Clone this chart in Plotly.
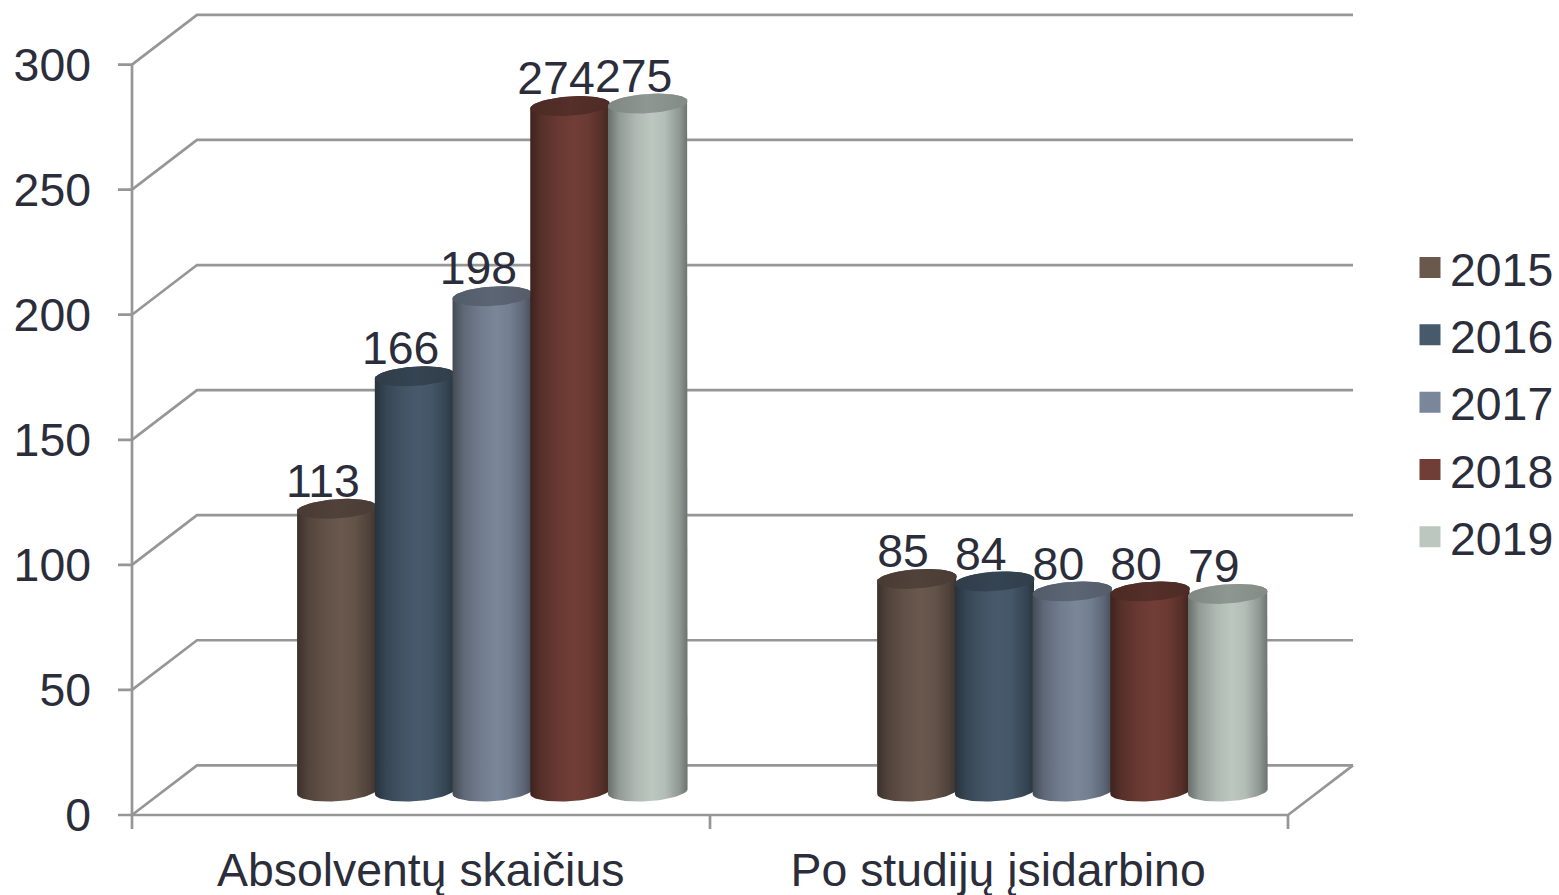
import numpy as np
import plotly.graph_objects as go

categories = ["Absolventų skaičius", "Po studijų įsidarbino"]
years = ["2015", "2016", "2017", "2018", "2019"]
v2015 = [113, 85]
v2016 = [166, 84]
v2017 = [198, 80]
v2018 = [274, 80]
v2019 = [275, 79]
series = [v2015, v2016, v2017, v2018, v2019]
colors = ["#6a584d", "#475a6c", "#7a8699", "#703e36", "#bcc7c0"]
y_ticks = [0, 50, 100, 150, 200, 250, 300]

FONT = "Liberation Sans, Arial, sans-serif"
FS = 46.4
INK = "#2b2d3a"
GRID = "#969696"
LW = 2.7

W, H = 1559, 895
PAD = 16                # plot area reaches this far past the chart's front/left edges
ML, MR, MB = 132 - PAD, 200, 895 - 815.5 - PAD
PX_X = 578.0            # pixels per category
PX_Y = 2.503            # pixels per value unit
BACK_DX = 65 / PX_X
BACK_DY = 49.7 / PX_Y
BASE = 23.5 / PX_Y      # cylinders stand half-way into the floor depth
GROUP_X = [0.6234, 1.627]
STEP = 77.7 / PX_X
A = 39.8 / PX_X
B = 9.7 / PX_Y
TILT = 2.5 / PX_Y
TICK_X = 14 / PX_X
TICK_Y = 14 / PX_Y


def shade(hex_color, f):
    r, g, b = (int(hex_color[i:i + 2], 16) for i in (1, 3, 5))
    return f"rgb({int(r * f)},{int(g * f)},{int(b * f)})"


fig = go.Figure()

# frame: tick stubs, left-wall diagonals, back wall, floor edges, axis lines
gx, gy = [], []
for t in y_ticks:
    gx += [-TICK_X, 0, BACK_DX, 2 + BACK_DX, None]
    gy += [t, t, t + BACK_DY, t + BACK_DY, None]
gx += [0, 2, 2 + BACK_DX, None, 0, 0, None, 1, 1, None, 2, 2, None]
gy += [0, 0, BACK_DY, None, -TICK_Y, 300, None, -TICK_Y, 0, None, -TICK_Y, 0, None]
fig.add_trace(go.Scatter(x=gx, y=gy, mode="lines", line=dict(color=GRID, width=LW),
                         showlegend=False, hoverinfo="skip"))

# plain bars carry the values; gradient cylinders are drawn over them
for i, (yr, vals) in enumerate(zip(years, series)):
    fig.add_trace(go.Bar(x=GROUP_X, y=vals, base=[BASE] * len(vals), name=yr,
                         marker=dict(color=colors[i], line=dict(width=0)),
                         showlegend=False, hoverinfo="skip"))

tt = np.linspace(0, 2 * np.pi, 121)
for i, (yr, vals) in enumerate(zip(years, series)):
    c = colors[i]
    body_scale = [[0, shade(c, .56)], [.14, shade(c, .78)], [.35, shade(c, .93)], [.55, shade(c, 1)],
                  [.72, shade(c, .95)], [.9, shade(c, .76)], [1, shade(c, .58)]]
    cap_scale = [[0, shade(c, .68)], [.5, shade(c, .76)], [1, shade(c, .70)]]
    for gxc, v in zip(GROUP_X, vals):
        cx = gxc + (i - 2) * STEP
        top = BASE + v
        low = np.linspace(np.pi, 2 * np.pi, 40)   # lower arc of the foot
        up = np.linspace(0, np.pi, 40)            # upper arc of the top
        bx = np.r_[cx + A * np.cos(low), cx + A * np.cos(up)]
        by = np.r_[BASE + B * np.sin(low) + TILT * np.cos(low), top + B * np.sin(up) + TILT * np.cos(up)]
        fig.add_trace(go.Scatter(
            x=bx, y=by, mode="lines", fill="toself", line=dict(width=0), showlegend=False, hoverinfo="skip",
            fillgradient=dict(type="horizontal", colorscale=body_scale, start=cx - A, stop=cx + A)))
        fig.add_trace(go.Scatter(
            x=cx + A * np.cos(tt), y=top + B * np.sin(tt) + TILT * np.cos(tt),
            mode="lines", fill="toself", line=dict(width=0), showlegend=False, hoverinfo="skip",
            fillgradient=dict(type="horizontal", colorscale=cap_scale, start=cx - A, stop=cx + A)))

# data labels
for i, (yr, vals) in enumerate(zip(years, series)):
    xs = [g + (i - 2) * STEP - 14 / PX_X for g in GROUP_X]
    fig.add_trace(go.Scatter(x=xs, y=[BASE + v + 23.5 / PX_Y for v in vals], mode="text",
                             text=[str(v) for v in vals], textposition="middle center",
                             textfont=dict(family=FONT, size=FS, color=INK),
                             showlegend=False, hoverinfo="skip", cliponaxis=False))

# legend entries
for i, yr in enumerate(years):
    fig.add_trace(go.Scatter(x=[None], y=[None], mode="markers", name=yr, legendgroup=yr,
                             marker=dict(symbol="square", size=16, color=colors[i],
                                         line=dict(width=5, color=colors[i]))))

plot_w = W - ML - MR
plot_h = H - MB
fig.update_layout(
    width=W, height=H, autosize=False,
    paper_bgcolor="white", plot_bgcolor="white",
    margin=dict(l=ML, r=MR, t=0, b=MB, autoexpand=False),
    barmode="group", bargap=0.328, bargroupgap=0,
    font=dict(family=FONT, size=FS, color=INK),
    showlegend=True,
    legend=dict(x=(1410 - ML) / plot_w, xanchor="left", y=(plot_h - 231) / plot_h, yanchor="top",
                tracegroupgap=4, bgcolor="rgba(0,0,0,0)", borderwidth=0,
                font=dict(family=FONT, size=FS, color=INK), itemclick=False, itemdoubleclick=False),
    xaxis=dict(range=[-PAD / PX_X, (plot_w - PAD) / PX_X], tickvals=[0.4995, 1.4985], ticktext=categories,
               ticks="", showgrid=False, zeroline=False, showline=False, ticklabelstandoff=8,
               tickfont=dict(family=FONT, size=FS, color=INK), tickangle=0),
    yaxis=dict(range=[-PAD / PX_Y, (plot_h - PAD) / PX_Y], tickvals=y_ticks, ticks="",
               showgrid=False, zeroline=False, showline=False, ticklabelstandoff=24,
               tickfont=dict(family=FONT, size=FS, color=INK)),
)

fig.write_html("out.html", config={"displayModeBar": False},
               post_script="document.body.style.margin='0';document.body.style.overflow='hidden';")
